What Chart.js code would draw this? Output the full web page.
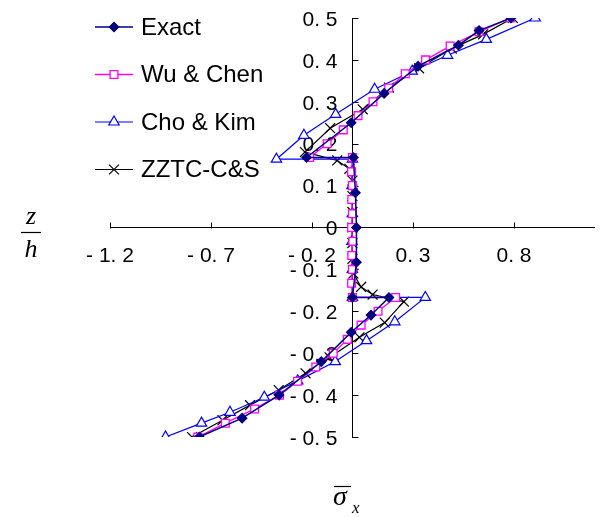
<!DOCTYPE html>
<html>
<head>
<meta charset="utf-8">
<script src="https://cdn.jsdelivr.net/npm/chart.js"></script>
<style>
html,body{margin:0;padding:0;background:#fff;}
#wrap{width:603px;height:517px;position:relative;}
</style>
</head>
<body>
<div id="wrap"><canvas id="myChart" width="603" height="517"></canvas></div>
<script>
// axis ticks
const xTicks=[-1.2,-0.7,-0.2,0.3,0.8];
const yTicks=[-0.5,-0.4,-0.3,-0.2,-0.1,0,0.1,0.2,0.3,0.4,0.5];

const seriesNames=["Exact","Wu & Chen","Cho & Kim","ZZTC-C&S"];

// sigma_x through the thickness (top face -> bottom face), z/h alongside
const exactSig=[0.785,0.627,0.525,0.325,0.157,-0.006,-0.227,0.005,0.015,0.02,0.02,0.0,0.181,0.092,-0.006,-0.154,-0.363,-0.546,-0.758];
const exactZ  =[0.5,0.47,0.435,0.385,0.32,0.25,0.167,0.167,0.083,0.0,-0.083,-0.167,-0.167,-0.209,-0.25,-0.32,-0.40,-0.455,-0.5];

const wuSig=[0.782,0.627,0.484,0.362,0.262,0.18,0.102,0.028,-0.045,-0.125,-0.212,
             0.0,-0.004,0.0,-0.003,0.0,-0.004,0.002,-0.003,0.0,-0.004,0.0,
             0.214,0.127,0.043,-0.025,-0.095,-0.181,-0.271,-0.361,-0.484,-0.629,-0.765];
const wuZ  =[0.5,0.467,0.433,0.4,0.367,0.333,0.3,0.267,0.233,0.2,0.167,
             0.167,0.133,0.1,0.067,0.033,0,-0.033,-0.067,-0.1,-0.133,-0.167,
             -0.167,-0.2,-0.233,-0.267,-0.3,-0.333,-0.367,-0.4,-0.433,-0.467,-0.5];

const choSig=[0.905,0.663,0.471,0.296,0.11,-0.083,-0.24,-0.376,
              0.0,-0.002,0.0,-0.002,0.0,0.0,
              0.361,0.21,0.07,-0.085,-0.271,-0.436,-0.606,-0.747,-0.925];
const choZ  =[0.5,0.449,0.411,0.373,0.33,0.27,0.22,0.163,
              0.163,0.1,0.033,-0.033,-0.1,-0.167,
              -0.167,-0.225,-0.27,-0.32,-0.366,-0.405,-0.441,-0.467,-0.5];

const zztcSig=[0.794,0.647,0.492,0.33,0.181,0.051,-0.11,-0.235,-0.075,-0.015,
               0.0,0.0,0.0,0.0,0.0,0.0,0.005,
               0.043,0.1,0.255,0.16,0.035,-0.113,-0.232,-0.365,-0.507,-0.643,-0.794];
const zztcZ  =[0.5,0.461,0.427,0.38,0.334,0.282,0.237,0.18,0.16,0.14,
               0.112,0.075,0.037,0,-0.037,-0.075,-0.11,
               -0.142,-0.16,-0.177,-0.227,-0.262,-0.31,-0.348,-0.388,-0.424,-0.46,-0.5];

function pts(xs,zs){
  let out=[];
  for(var i=0;i<xs.length;i++) out.push({x:xs[i],y:zs[i]});
  return out;
}
// "- 0. 2" style labels
function fmt(v){
  if(Math.abs(v)<1e-9) return "0";
  let s=Math.abs(v).toFixed(1).replace(".",". ");
  return (v<0?"- ":"")+s;
}

const tickFont={family:"'Liberation Sans', Arial, sans-serif",size:21};

const styles=[
  {color:"#000080",fill:"#000080",style:"rectRot",r:4.5,w:1.5},
  {color:"#FF00FF",fill:"#FFFFFF",style:"rect",r:5.5,w:1.3},
  {color:"#0000FF",fill:"#FFFFFF",style:"triangle",r:6,w:1.2},
  {color:"#000000",fill:"#000000",style:"crossRot",r:7,w:1.2}
];
const series=[pts(exactSig,exactZ),pts(wuSig,wuZ),pts(choSig,choZ),pts(zztcSig,zztcZ)];

// tick marks, y tick labels, legend and axis titles
const extras={
  id:"extras",
  beforeDatasetsDraw(chart){
    const ctx=chart.ctx, xs=chart.scales.x, ys=chart.scales.y;
    const x0=Math.round(xs.getPixelForValue(0))+0.5, y0=Math.round(ys.getPixelForValue(0))+0.5;
    ctx.save();
    ctx.strokeStyle="#000"; ctx.lineWidth=1;
    ctx.beginPath();
    xTicks.forEach(v=>{const p=Math.round(xs.getPixelForValue(v))+0.5; ctx.moveTo(p,y0); ctx.lineTo(p,y0-6);});
    yTicks.forEach(v=>{const p=Math.round(ys.getPixelForValue(v))+0.5; ctx.moveTo(x0,p); ctx.lineTo(x0+6,p);});
    ctx.stroke();
    // y labels sit left of the axis with a gap
    ctx.fillStyle="#000";
    ctx.font="21px 'Liberation Sans', Arial, sans-serif";
    ctx.textAlign="right"; ctx.textBaseline="middle";
    yTicks.forEach(v=>{ctx.fillText(fmt(v),x0-15,ys.getPixelForValue(v)+2);});
    ctx.restore();
  },
  afterDraw(chart){
    const ctx=chart.ctx;
    ctx.save();
    for(var i=0;i<seriesNames.length;i++){
      const st=styles[i], y=27+i*47.5;
      ctx.strokeStyle=st.color; ctx.lineWidth=st.w;
      ctx.beginPath(); ctx.moveTo(95,y); ctx.lineTo(133,y); ctx.stroke();
      ctx.fillStyle=st.fill;
      Chart.helpers.drawPoint(ctx,{pointStyle:st.style,radius:st.r,borderWidth:st.w,rotation:0},114,y);
      ctx.fillStyle="#000";
      ctx.font="24px 'Liberation Sans', Arial, sans-serif";
      ctx.textBaseline="middle"; ctx.textAlign="left";
      ctx.fillText(seriesNames[i],141,y+1);
    }
    // z/h
    ctx.font="italic 26px 'Liberation Serif', 'Times New Roman', serif";
    ctx.textAlign="center"; ctx.textBaseline="alphabetic";
    ctx.fillText("z",31,224);
    ctx.fillText("h",31,257);
    ctx.lineWidth=1.2; ctx.strokeStyle="#000";
    ctx.beginPath(); ctx.moveTo(21,232.5); ctx.lineTo(41,232.5); ctx.stroke();
    // sigma bar x
    ctx.textAlign="left";
    ctx.font="italic 28px 'Liberation Serif', 'Times New Roman', serif";
    ctx.fillText("\u03C3",333,505);
    ctx.beginPath(); ctx.moveTo(334,486.5); ctx.lineTo(351,486.5); ctx.stroke();
    ctx.font="italic 17px 'Liberation Serif', 'Times New Roman', serif";
    ctx.fillText("x",352,513);
    ctx.restore();
  }
};

const ctx=document.getElementById("myChart").getContext("2d");
const myChart=new Chart(ctx,{
  type:"scatter",
  data:{
    datasets:series.map((d,i)=>({
      label:seriesNames[i],
      data:d,
      showLine:true,
      borderColor:styles[i].color,
      backgroundColor:styles[i].fill,
      borderWidth:styles[i].w,
      pointStyle:styles[i].style,
      pointRadius:styles[i].r,
      pointHoverRadius:styles[i].r,
      pointBorderColor:styles[i].color,
      pointBackgroundColor:styles[i].fill,
      pointBorderWidth:styles[i].w,
      tension:0
    }))
  },
  options:{
    responsive:false,
    animation:false,
    events:[],
    layout:{padding:{left:110,right:5,top:18,bottom:80}},
    plugins:{legend:{display:false},tooltip:{enabled:false}},
    scales:{
      x:{
        type:"linear",min:-1.2,max:1.2,
        position:{y:0},
        afterBuildTicks:s=>{s.ticks=xTicks.map(v=>({value:v}));},
        ticks:{callback:fmt,font:tickFont,color:"#000",maxRotation:0,autoSkip:false,padding:16},
        grid:{drawOnChartArea:false,drawTicks:false},
        border:{color:"#000",width:1}
      },
      y:{
        type:"linear",min:-0.5,max:0.5,
        position:{x:0},
        afterBuildTicks:s=>{s.ticks=yTicks.map(v=>({value:v}));},
        ticks:{display:false},
        grid:{drawOnChartArea:false,drawTicks:false},
        border:{color:"#000",width:1}
      }
    }
  },
  plugins:[extras]
});
</script>
</body>
</html>
